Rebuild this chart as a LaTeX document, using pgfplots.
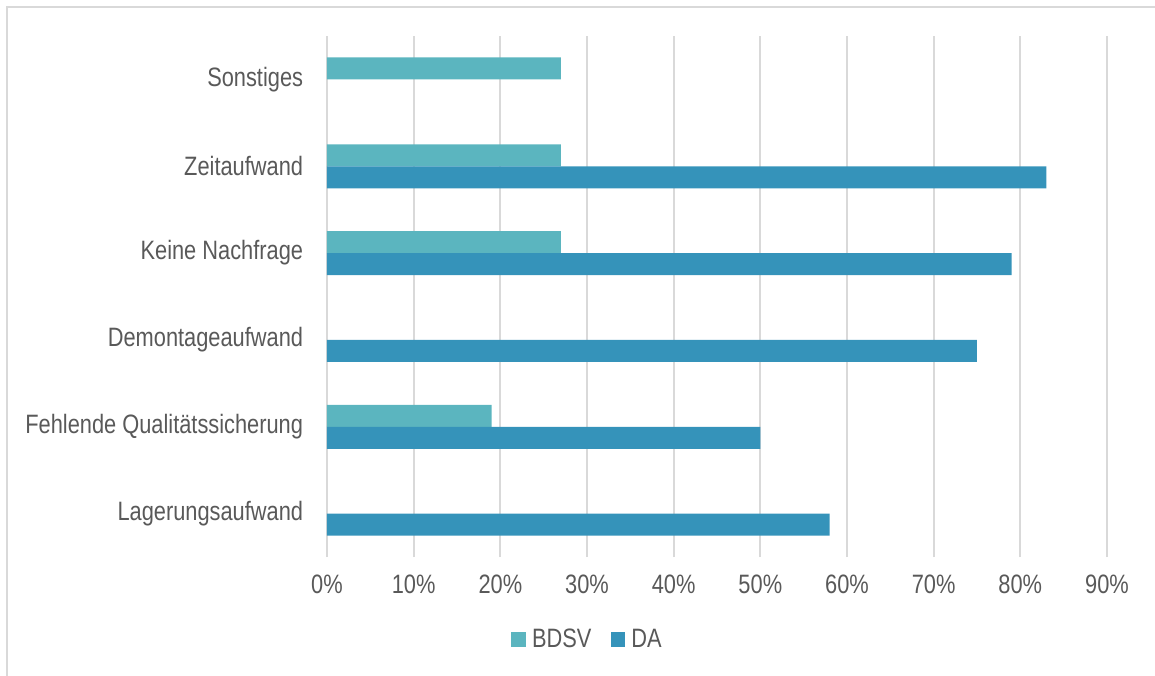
\documentclass[border=0pt]{standalone}
\usepackage{fontspec}
\setmainfont[FakeStretch=0.82]{Liberation Sans}
\usepackage{pgfplots}
\pgfplotsset{compat=1.18}

\definecolor{bdsv}{HTML}{5BB5BF}
\definecolor{da}{HTML}{3593BA}
\definecolor{gridgray}{HTML}{D9D9D9}
\definecolor{txtgray}{HTML}{595959}

\begin{document}
\begin{tikzpicture}[x=1pt,y=1pt]
\begin{axis}[
  at={(0,0)}, anchor=south west,
  scale only axis, width=390pt, height=260.5pt,
  xmin=0, xmax=90, ymin=-0.5, ymax=5.5,
  xbar=0pt, bar width=11pt,
  axis line style={draw=none},
  tick style={draw=none},
  xmajorgrids,
  major grid style={draw=gridgray, line width=1pt},
  xtick={0,10,...,90},
  xticklabels={0\%,10\%,20\%,30\%,40\%,50\%,60\%,70\%,80\%,90\%},
  ytick={0,...,5},
  yticklabels={Lagerungsaufwand, Fehlende Qualitätssicherung, Demontageaufwand, Keine Nachfrage, Zeitaufwand, Sonstiges},
  tick label style={font=\fontsize{13.3}{16}\selectfont, text=txtgray, inner sep=0pt},
  xticklabel style={anchor=north, yshift=-9pt},
  yticklabel style={anchor=east, xshift=-7.5pt},
  legend style={draw=none, fill=none, at={(0.3346,-0.159)}, anchor=center,
    font=\fontsize{13.3}{16}\selectfont, text=txtgray,
    /tikz/every odd column/.append style={column sep=1.5pt},
    /tikz/every even column/.append style={column sep=8pt},
    nodes={inner sep=1.5pt}},
  legend columns=2,
  legend image code/.code={\draw[#1,draw=none] (0pt,-3.7pt) rectangle (7.4pt,3.7pt);},
]
% BDSV: upper bar of each group
\addplot[fill=bdsv, draw=none, bar shift=5.5pt] coordinates {
  (19,1) (27,3) (27,4) (27,5)
};
% DA: lower bar of each group
\addplot[fill=da, draw=none, bar shift=-5.5pt] coordinates {
  (58,0) (50,1) (75,2) (79,3) (83,4)
};
\legend{BDSV, DA}
\end{axis}
\draw[gridgray, line width=1pt] (-160,-70) -- (-160,275) -- (420,275);
\pgfresetboundingbox
\path[use as bounding box] (-163.5,-59) rectangle (414,278.5);
\end{tikzpicture}
\end{document}
